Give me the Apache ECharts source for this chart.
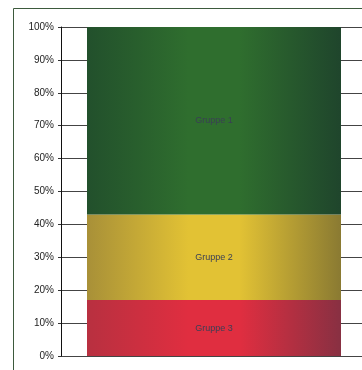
<!DOCTYPE html>
<html><head><meta charset="utf-8">
<script src="https://cdn.jsdelivr.net/npm/echarts@6/dist/echarts.min.js"></script>
<style>html,body{margin:0;padding:0;background:#fff;overflow:hidden}#c{width:367px;height:370px}</style>
</head><body><div id="c"></div>
<script>
const categories = ['A'];
const seriesNames = ['Gruppe 3', 'Gruppe 2', 'Gruppe 1'];
const gruppe3 = [17];
const gruppe2 = [26];
const gruppe1 = [57];
const yTicks = [0, 10, 20, 30, 40, 50, 60, 70, 80, 90, 100];

function grad(e1, c, e2) {
  return new echarts.graphic.LinearGradient(0, 0, 1, 0, [
    {offset: 0, color: e1}, {offset: 0.4, color: c}, {offset: 0.6, color: c}, {offset: 1, color: e2}]);
}
const colors = [
  grad('#b83040', '#e02e40', '#883042'),
  grad('#a89038', '#e2c234', '#8a7a32'),
  grad('#22502c', '#2f6e2e', '#1f452c')
];
const values = [gruppe3, gruppe2, gruppe1];

const chart = echarts.init(document.getElementById('c'), null, {renderer: 'canvas'});
chart.setOption({
  animation: false,
  graphic: [{type: 'rect', shape: {x: 13.5, y: 8.5, width: 400, height: 400},
    style: {fill: 'none', stroke: '#3d5a3d', lineWidth: 1}, z: -1}],
  grid: {left: 61, top: 27, right: 0, bottom: 14},
  xAxis: {type: 'category', data: categories, show: false},
  yAxis: {type: 'value', min: 0, max: 100, interval: 10,
    axisLine: {show: true, lineStyle: {color: '#111', width: 1}},
    axisTick: {show: true, length: 3, lineStyle: {color: '#333'}},
    axisLabel: {formatter: v => yTicks.includes(v) ? v + '%' : '', color: '#222',
      fontFamily: 'Liberation Sans', fontSize: 10, margin: 7},
    splitLine: {lineStyle: {color: '#444', width: 1}}},
  series: seriesNames.map((n, i) => ({
    name: n, type: 'bar', stack: 's', barWidth: 254, data: values[i],
    itemStyle: {color: colors[i]},
    label: {show: true, position: 'inside', formatter: n, color: '#3a3f55',
      fontFamily: 'Liberation Sans', fontSize: 9}
  }))
});
</script></body></html>
